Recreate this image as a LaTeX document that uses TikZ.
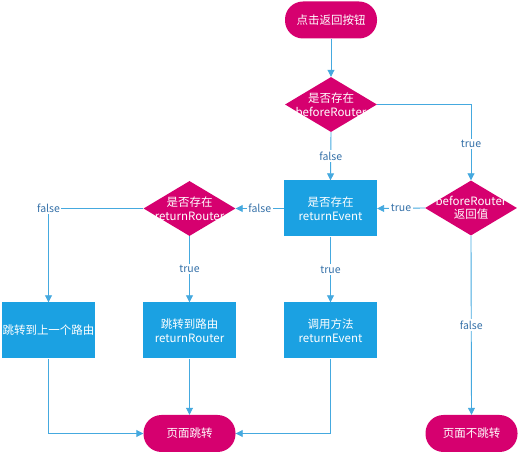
\documentclass[tikz,border=0pt]{standalone}
\usepackage{fontspec}
\setmainfont{Noto Sans CJK SC}
\usetikzlibrary{shapes.geometric,arrows.meta}
\definecolor{mag}{HTML}{D6006F}
\definecolor{boxblue}{HTML}{1BA1E2}
\definecolor{lineblue}{HTML}{45A9DF}
\definecolor{lbl}{HTML}{3470A8}
\tikzset{
  pill/.style={rectangle, rounded corners=18pt, fill=mag, text=white, minimum width=92pt, minimum height=37pt, inner sep=0pt, font=\fontsize{11.5}{13.5}\selectfont, align=center},
  dia/.style={diamond, fill=mag, minimum width=92pt, minimum height=55pt, inner sep=0pt},
  dtext/.style={text=white, align=center, font=\fontsize{11.5}{13.5}\selectfont, inner sep=0pt},
  pbox/.style={rectangle, fill=boxblue, text=white, minimum width=93pt, minimum height=56pt, inner sep=0pt, align=center, font=\fontsize{11.5}{13.5}\selectfont},
  conn/.style={draw=lineblue, line width=0.9pt, -{Triangle[width=7pt,length=7pt]}},
  lab/.style={fill=white, text=lbl, inner sep=1.5pt, font=\fontsize{10.5}{12}\selectfont}
}
\begin{document}
\begin{tikzpicture}[x=1pt,y=-1pt]
\useasboundingbox (0,0) rectangle (520,454);
\node[pill] (start) at (331,20) {点击返回按钮};
\node[dia, label={[dtext]center:是否存在\\beforeRouter}] (d1) at (331,104.5) {};
\node[dia, label={[dtext]center:beforeRouter\\返回值}] (d2) at (471,208) {};
\node[pbox] (e) at (330.5,208.5) {是否存在\\returnEvent};
\node[dia, label={[dtext]center:是否存在\\returnRouter}] (dr) at (189.5,208.5) {};
\node[pbox] (b1) at (48.5,330.5) {跳转到上一个路由};
\node[pbox] (b2) at (189.5,330.5) {跳转到路由\\returnRouter};
\node[pbox] (b3) at (330.5,330.5) {调用方法\\returnEvent};
\node[pill] (end) at (189.5,433.5) {页面跳转};
\node[pill] (nj) at (471.5,433.5) {页面不跳转};

\draw[conn] (start) -- (d1);
\draw[conn] (d1.east) -| node[lab, pos=0.76] {true} (d2.north);
\draw[conn] (d1.south) -- node[lab] {false} (e.north);
\draw[conn] (d2.west) -- node[lab] {true} (e.east);
\draw[conn] (e.west) -- node[lab] {false} (dr.east);
\draw[conn] (dr.west) -| node[lab, pos=0.5] {false} (b1.north);
\draw[conn] (dr.south) -- node[lab] {true} (b2.north);
\draw[conn] (e.south) -- node[lab] {true} (b3.north);
\draw[conn] (d2.south) -- node[lab] {false} (nj.north);
\draw[conn] (b1.south) |- (end.west);
\draw[conn] (b2.south) -- (end.north);
\draw[conn] (b3.south) |- (end.east);
\end{tikzpicture}
\end{document}
